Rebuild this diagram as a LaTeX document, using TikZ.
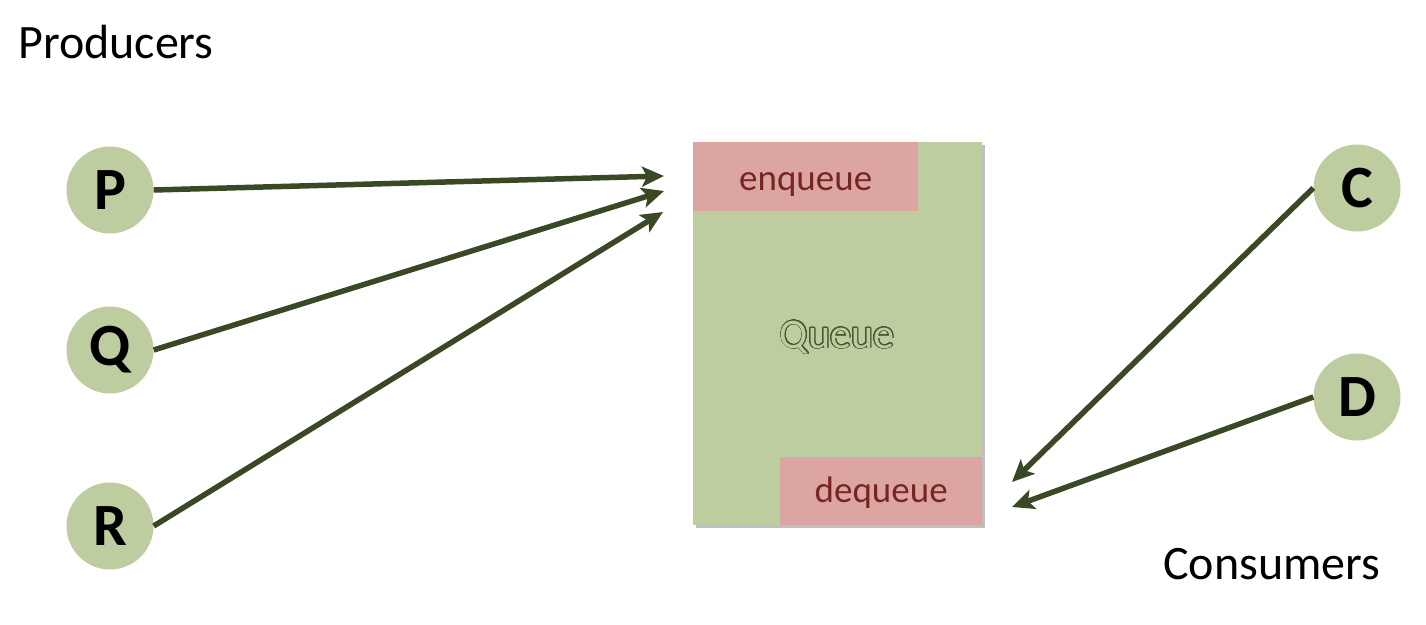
\documentclass[tikz,border=0pt]{standalone}
\usepackage{fontspec}
\setmainfont{Carlito}
\usepackage{contour}
\contourlength{0.9pt}
\contournumber{32}
\usetikzlibrary{arrows.meta}
\definecolor{leaf}{RGB}{189,205,159}
\definecolor{rose}{RGB}{220,165,162}
\definecolor{wine}{RGB}{118,38,33}
\definecolor{moss}{RGB}{58,72,38}
\definecolor{mossline}{RGB}{70,86,50}
\tikzset{
  actor/.style={circle,fill=leaf,minimum size=87pt,inner sep=0pt,
    font=\fontsize{60}{60}\selectfont\bfseries},
  flow/.style={draw=moss,line width=5.5pt,
    -{Stealth[length=22pt,width=20pt,inset=5pt]}},
  slot/.style={fill=rose,text=wine,inner sep=0pt,text depth=0pt,
    font=\fontsize{37}{37}\selectfont},
  title/.style={anchor=base west,inner sep=0pt,
    font=\fontsize{48}{48}\selectfont}
}
\begin{document}
\begin{tikzpicture}[yscale=-1,x=1pt,y=1pt]
    \useasboundingbox (0,0) rectangle (1426,624);
    \node[title] (prod) at (18,58) {Producers};
    \node[title] (cons) at (1163,579) {Consumers};
    % the queue
    \fill[black!25] (696,145) rectangle (985,528);
    \node[fill=leaf,minimum width=289pt,minimum height=383pt,
          inner sep=0pt,anchor=north west] (queue) at (693,142) {};
    \node[slot,text height=27pt,minimum width=225pt,minimum height=69pt,
          anchor=north west] (enq) at (queue.north west) {enqueue};
    \node[slot,text height=23pt,minimum width=202pt,minimum height=68pt,
          anchor=south east] (deq) at (queue.south east) {dequeue};
    \node[font=\fontsize{42}{42}\selectfont,text=leaf,anchor=base,
          inner sep=0pt] (qname) at (837,348) {\contour{mossline}{Queue}};
    % producers and consumers
    \node[actor] (P) at (110,190) {P};
    \node[actor] (Q) at (110,350) {Q};
    \node[actor] (R) at (110,526) {R};
    \node[actor] (C) at (1357,188) {C};
    \node[actor] (D) at (1357,397) {D};
    \coordinate (inP) at (664,176);
    \coordinate (inQ) at (664,191);
    \coordinate (inR) at (663,212);
    \coordinate (outC) at (1012,482);
    \coordinate (outD) at (1012,507);
    \draw[flow] (P.east) -- (inP);
    \draw[flow] (Q.east) -- (inQ);
    \draw[flow] (R.east) -- (inR);
    \draw[flow] (C.west) -- (outC);
    \draw[flow] (D.west) -- (outD);
\end{tikzpicture}
\end{document}
